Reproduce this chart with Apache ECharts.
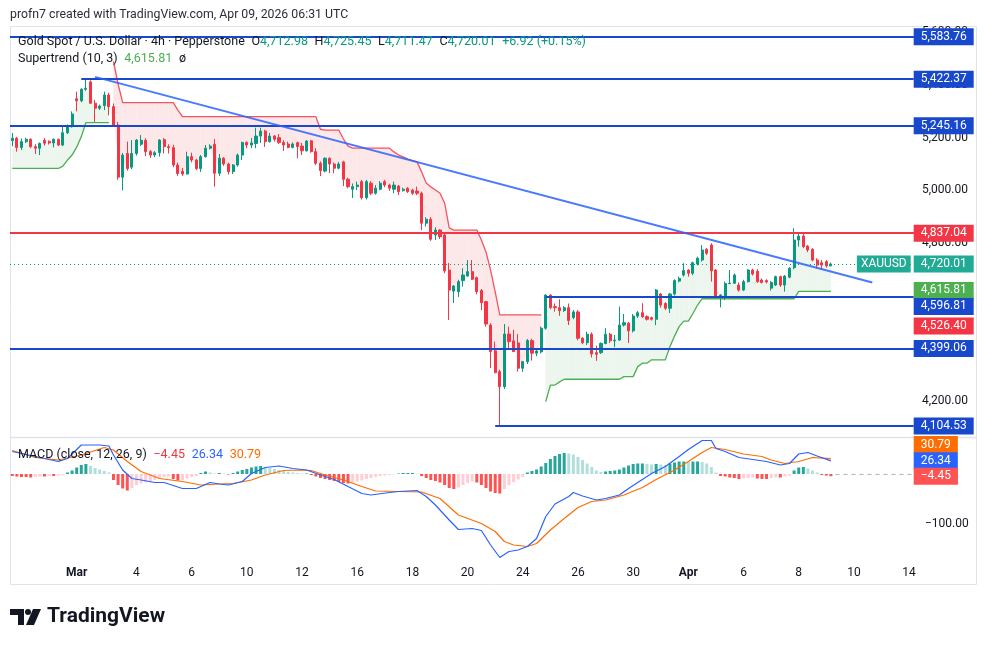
<!DOCTYPE html>
<html>
<head>
<meta charset="utf-8">
<script src="https://cdn.jsdelivr.net/npm/echarts@6/dist/echarts.min.js"></script>
<style>
  html, body { margin: 0; padding: 0; background: #fff; }
  #chart { width: 989px; height: 647px; }
</style>
</head>
<body>
<div id="chart"></div>
<script>
// 4h candles, [open, close, low, high]
const candles = [
  [5189,5198,5168,5218],[5198,5163,5147,5203],[5163,5185,5153,5197],[5185,5194,5180,5200],[5194,5166,5160,5197],
  [5166,5160,5138,5175],[5160,5178,5134,5182],[5190,5179,5170,5198],[5186,5180,5174,5190],[5180,5194,5163,5197],
  [5194,5172,5168,5196],[5172,5219,5168,5242],[5219,5242,5214,5250],[5242,5290,5238,5300],[5348,5340,5300,5375],
  [5340,5384,5335,5388],[5384,5388,5378,5422],[5412,5331,5328,5418],[5331,5312,5260,5343],[5312,5320,5305,5326],
  [5322,5362,5305,5375],[5362,5318,5285,5370],[5318,5248,5242,5330],[5248,5050,5040,5260],[5050,5134,5000,5142],
  [5140,5083,5075,5185],[5088,5140,5080,5191],[5140,5191,5132,5195],[5175,5190,5168,5210],[5190,5147,5130,5198],
  [5147,5134,5123,5153],[5134,5143,5126,5149],[5143,5191,5128,5195],[5193,5166,5140,5198],[5166,5162,5140,5175],
  [5162,5096,5088,5173],[5096,5064,5055,5105],[5072,5062,5055,5085],[5062,5128,5060,5147],[5128,5115,5106,5143],
  [5115,5083,5077,5120],[5083,5128,5070,5134],[5128,5160,5124,5172],[5160,5168,5155,5175],[5175,5065,5014,5195],
  [5065,5122,5054,5138],[5122,5100,5093,5126],[5100,5071,5060,5105],[5071,5096,5062,5100],[5096,5134,5090,5140],
  [5134,5182,5115,5185],[5182,5172,5160,5186],[5172,5180,5160,5199],[5178,5206,5160,5238],[5206,5225,5180,5238],
  [5225,5185,5165,5230],[5185,5206,5181,5218],[5206,5194,5185,5210],[5200,5182,5176,5214],[5182,5172,5150,5190],
  [5176,5163,5160,5185],[5163,5176,5160,5182],[5181,5166,5122,5185],[5168,5150,5134,5180],[5150,5187,5147,5191],
  [5188,5147,5143,5191],[5147,5103,5096,5160],[5103,5075,5054,5110],[5073,5122,5068,5125],[5122,5100,5065,5125],
  [5100,5084,5065,5105],[5084,5100,5080,5108],[5108,5042,5016,5112],[5042,5014,5008,5048],[5004,5014,4971,5026],
  [5014,5020,5001,5033],[5033,4972,4965,5039],[4972,5033,4965,5040],[5027,4989,4982,5035],[4989,5008,4984,5020],
  [5004,5027,5000,5035],[5033,5020,5012,5040],[5020,5008,4998,5025],[5004,5020,4989,5033],[5016,4995,4982,5020],
  [4999,5004,4995,5010],[5008,4995,4990,5012],[5001,4989,4982,5006],[4997,4989,4982,5014],[4989,4875,4849,4995],
  [4875,4890,4862,4898],[4890,4814,4808,4898],[4830,4849,4811,4860],[4849,4824,4815,4853],[4830,4694,4685,4838],
  [4697,4621,4507,4724],[4617,4636,4572,4640],[4615,4653,4595,4660],[4657,4678,4634,4704],[4674,4691,4672,4735],
  [4691,4662,4659,4735],[4668,4615,4605,4672],[4619,4573,4545,4625],[4577,4492,4482,4580],[4488,4387,4325,4495],
  [4390,4307,4305,4425],[4311,4254,4104.53,4318],[4254,4454,4245,4492],[4454,4425,4400,4482],[4428,4387,4387,4470],
  [4420,4324,4311,4454],[4324,4349,4310,4352],[4349,4429,4340,4435],[4429,4381,4353,4436],[4381,4389,4370,4395],
  [4386,4476,4380,4482],[4476,4602,4470,4605],[4602,4554,4548,4605],[4558,4554,4539,4570],[4554,4543,4523,4586],
  [4543,4554,4538,4560],[4554,4505,4488,4570],[4517,4538,4510,4545],[4538,4438,4430,4545],[4438,4421,4415,4442],
  [4421,4453,4412,4463],[4453,4378,4365,4460],[4383,4377,4352,4410],[4383,4418,4378,4422],[4418,4453,4415,4476],
  [4453,4428,4420,4458],[4428,4431,4404,4450],[4431,4488,4428,4558],[4488,4497,4482,4530],[4495,4466,4420,4500],
  [4466,4522,4460,4530],[4522,4535,4515,4541],[4535,4520,4515,4571],[4520,4510,4505,4525],[4516,4510,4505,4520],
  [4510,4621,4488,4625],[4606,4564,4554,4610],[4570,4552,4545,4575],[4552,4606,4534,4610],[4606,4657,4600,4662],
  [4655,4665,4650,4672],[4678,4695,4672,4723],[4697,4685,4672,4700],[4685,4725,4678,4729],[4720,4742,4715,4748],
  [4735,4773,4730,4792],[4776,4761,4754,4780],[4792,4694,4653,4799],[4697,4593,4590,4700],[4593,4602,4555,4606],
  [4598,4646,4583,4653],[4645,4647,4644,4697],[4647,4678,4644,4684],[4640,4621,4615,4650],[4621,4653,4618,4660],
  [4653,4697,4650,4700],[4697,4682,4676,4702],[4692,4653,4648,4700],[4659,4650,4646,4665],[4657,4652,4646,4662],
  [4628,4650,4619,4655],[4640,4672,4636,4676],[4672,4640,4633,4676],[4640,4674,4615,4678],[4670,4704,4666,4708],
  [4706,4811,4700,4856],[4811,4826,4786,4839],[4826,4786,4780,4839],[4788,4773,4765,4792],[4776,4735,4730,4780],
  [4735,4716,4704,4742],[4725,4716,4700,4735],[4729,4713.09,4706,4735],[4712.98,4720.01,4711.47,4725.45]
];

// Supertrend (10, 3) value per bar
const supertrend = [
  5083,5083,5083,5083,5083,5083,5083,5083,5083,5083,5083,5092,5115,5134,5164,5204,5257,5257,5257,5257,5257,5257,
  5490,5404,5333,5333,5333,5333,5333,5333,5333,5333,5333,5333,5333,5333,5305,
  5280,5280,5280,5280,5280,5280,5280,5280,5280,5280,5280,5280,5280,5280,5280,5280,5280,5280,5280,5280,
  5280,5280,5280,5280,5280,5280,5280,5280,5280,5280,
  5232,5229,5229,5229,5229,5195,5168,5160,5160,5160,5160,5160,5160,5160,5160,5160,
  5146,5134,5127,5119,5113,5108,5070,5028,5013,5001,4989,4952,4857,
  4849,4849,4849,4849,4849,4849,4811,4766,4697,4614,
  4526.4,4526.4,4526.4,4526.4,4526.4,4526.4,4526.4,4526.4,4526.4,4526.4,
  4197,4260,4260,4272,4282,4282,4282,4282,4282,4282,4282,4282,4282,4282,4282,4282,4282,
  4292,4292,4292,4330,4343,4343,4356,4356,4356,4356,4406,4446,4482,4503,4503,4532,4564,
  4588,4588,4588,4588,4588,4588,4588,4588,4588,4588,4588,4588,4588,4588,4588,4588,4588,4588,4588,4588,4588,
  4615.81,4615.81,4615.81,4615.81,4615.81,4615.81,4615.81,4615.81
];
const stFlipDown = 22;   // first bar of the down trend
const stFlipUp = 116;    // first bar of the following up trend

// MACD (12, 26, 9): lines read at [bar, value], histogram per bar
const macdLine = [
  [0,45],[5,35],[10,25],[12,31],[15,58],[19,58],[21,56],[22,38],[24,8],[26,-9],[28,-12],[31,-17],[33,-17],
  [37,-29],[40,-29],[43,-17],[45,-20],[47,-22],[50,-15],[52,1],[55,13],[58,16],[61,11],[64,8],[67,-2],[70,-11],
  [73,-25],[76,-39],[78,-42],[82,-37],[84,-35],[88,-33],[90,-45],[92,-62],[95,-92],[97,-111],[100,-109],
  [102,-113],[104,-142],[106,-167],[108,-155],[110,-152],[112,-145],[114,-129],[116,-85],[118,-60],[121,-45],
  [122,-37],[124,-44],[127,-52],[129,-49],[132,-42],[134,-29],[137,-11],[139,1],[142,15],[145,35],[147,49],
  [150,67],[152,67],[153,51],[155,45],[158,33],[161,29],[164,25],[167,18],[169,21],[171,40],[173,43],[175,36],
  [178,26.34]
];
const signalLine = [
  [0,47],[5,33],[10,28],[15,38],[20,53],[22,48],[25,25],[28,5],[32,-9],[37,-15],[41,-22],[45,-20],[48,-19],
  [52,-12],[55,-2],[59,7],[63,8],[65,7],[68,-2],[72,-12],[76,-25],[79,-34],[84,-35],[89,-36],[93,-49],[97,-82],
  [102,-99],[105,-115],[107,-135],[109,-142],[112,-145],[114,-139],[117,-112],[120,-89],[123,-67],[126,-55],
  [129,-52],[133,-42],[137,-27],[140,-11],[144,8],[147,25],[150,43],[152,53],[155,49],[159,40],[163,35],
  [165,28],[168,21],[171,25],[174,33],[178,30.79]
];
const macdHist = [
  -4,-5,-6,-6,-7,-6,-5,-5,-4,-4,-3,-2,
  3,7,13,18,20,16,12,9,6,3,
  -12,-22,-29,-33,-28,-22,-19,-17,-15,-12,-8,-6,-5,-10,-13,-12,-9,-6,-4,
  2,5,3,1,2,1,-1,2,5,8,10,13,15,16,14,12,10,8,6,4,3,2,1,1,
  -2,-5,-8,-10,-12,-14,-16,-18,-19,-17,-15,-13,-10,-8,-6,-4,-3,-2,-1,
  1,2,2,2,1,
  -4,-8,-12,-14,-17,-22,-28,-30,-27,-22,-18,-15,-17,-22,-28,-35,-38,-39,-30,-22,-16,-11,-6,
  3,6,9,15,22,30,36,40,42,41,39,34,28,21,14,7,4,5,6,7,9,13,17,20,21,21,20,19,20,19,18,21,23,25,25,24,25,25,24,21,14,3,
  -4,-5,-7,-8,-10,-9,-8,-7,-9,-10,-10,-8,-7,-7,-5,-3,
  7,13,14,11,7,3,-2,-3,-4.45
];

// horizontal drawings: price level and first bar
const levelPrices = [5583.76, 5422.37, 5245.16, 4837.04, 4596.81, 4399.06, 4104.53];
const levelStart = [0, 15, 0, 0, 116, 0, 105];
// trend line: [bar, price] end points
const trendFrom = [18, 5431];
const trendTo = [187, 4650];

// time axis
const tickBars = [14, 27, 39, 51, 63, 75, 87, 99, 111, 123, 135, 147, 159, 171, 183, 195];
const tickText = ['Mar', '4', '6', '10', '12', '16', '18', '20', '24', '26', '30', 'Apr', '6', '8', '10', '14'];
const priceTicks = [4200, 4400, 4600, 4800, 5000, 5200, 5400, 5600];
const barCount = 197;

const UP = '#089981', DOWN = '#f23645', LINE_BLUE = '#1848cc';
const FONT = 'Roboto, "Noto Sans", sans-serif';
const fmt = v => v.toLocaleString('en-US', { minimumFractionDigits: 2, maximumFractionDigits: 2 });
const lastBar = barCount - 1;

const categories = [];
for (let i = 0; i < barCount; i++) categories.push(String(i));
const tickLabel = {};
tickBars.forEach((b, k) => { tickLabel[b] = tickText[k]; });

const last = candles[candles.length - 1];
const prevClose = candles[candles.length - 2][1];
const change = last[1] - prevClose;

// supertrend split into its two colours
const isUp = i => i < stFlipDown || i >= stFlipUp;
const stUp = supertrend.map((v, i) => isUp(i) ? v : null);
const stDown = supertrend.map((v, i) => isUp(i) ? null : v);
const bodyMid = candles.map(c => (c[0] + c[1]) / 2);
const fillData = [];
for (let i = 0; i < supertrend.length - 1; i++) {
  if (isUp(i) !== isUp(i + 1)) continue;
  fillData.push([i, supertrend[i], bodyMid[i], supertrend[i + 1], bodyMid[i + 1], isUp(i) ? 1 : -1]);
}

// histogram colours: rising / falling
const histData = macdHist.map((v, i) => {
  const prev = i > 0 ? macdHist[i - 1] : v;
  let c;
  if (v >= 0) c = v >= prev ? '#26a69a' : '#b2dfdb';
  else c = v <= prev ? '#ff5252' : '#ffcdd2';
  return { value: v, itemStyle: { color: c } };
});

// markLines for drawings
const levelLines = levelPrices.map((p, k) => {
  const color = p === 4837.04 ? DOWN : LINE_BLUE;
  const ls = { color, width: 2, type: 'solid' };
  if (levelStart[k] === 0) return { yAxis: p, lineStyle: ls };
  return [{ coord: [levelStart[k], p], lineStyle: ls }, { coord: [lastBar, p], lineStyle: ls }];
});
const trendStyle = { color: '#2962ff', width: 2, type: 'solid', opacity: 0.85 };
levelLines.push([{ coord: trendFrom, lineStyle: trendStyle }, { coord: trendTo, lineStyle: trendStyle }]);
levelLines.push({ yAxis: last[1], lineStyle: { color: UP, width: 1, type: [1, 3] } });

// right scale tags
const tagValues = [5583.76, 5422.37, 5245.16, 4837.04, last[1], supertrend[supertrend.length - 1], 4596.81, 4526.40, 4399.06, 4104.53];
const tagColors = [LINE_BLUE, LINE_BLUE, LINE_BLUE, DOWN, '#22ab94', '#4caf50', LINE_BLUE, DOWN, LINE_BLUE, LINE_BLUE];
const tagShift = [0, 0, 0, 0, 0, -1, 10, 11, 0, 0];
const tagLabel = { show: true, position: 'right', distance: 0, color: '#fff', fontSize: 12, fontFamily: FONT,
  padding: [2, 7, 2, 7], lineHeight: 13 };
const priceTags = tagValues.map((v, k) => ({
  coord: [lastBar, v],
  label: Object.assign({}, tagLabel, { formatter: fmt(v), backgroundColor: tagColors[k], offset: [0, tagShift[k]] })
}));
priceTags.push({
  coord: [lastBar, last[1]],
  label: Object.assign({}, tagLabel, { position: 'left', distance: 3, formatter: 'XAUUSD', backgroundColor: '#22ab94', padding: [2, 4, 2, 4] })
});

const macdLast = macdLine[macdLine.length - 1][1];
const signalLast = signalLine[signalLine.length - 1][1];
const histLast = macdHist[macdHist.length - 1];
const macdTags = [[signalLast, '#ff6d00', -14], [macdLast, '#2962ff', 0], [histLast, '#ff5252', 0]].map(t => ({
  coord: [lastBar, t[0]],
  label: Object.assign({}, tagLabel, { formatter: fmt(t[0]).replace('-', '\u2212'), backgroundColor: t[1], offset: [0, t[2]] })
}));

const chart = echarts.init(document.getElementById('chart'));
chart.setOption({
  animation: false,
  backgroundColor: '#fff',
  textStyle: { fontFamily: FONT },
  grid: [
    { left: 10, right: 73, top: 27, height: 410 },
    { left: 10, right: 73, top: 438, height: 122 }
  ],
  xAxis: [
    { type: 'category', gridIndex: 0, data: categories, show: false },
    {
      type: 'category', gridIndex: 1, data: categories,
      axisLine: { show: false }, axisTick: { show: false },
      axisLabel: {
        interval: 0, margin: 7, color: '#131722', fontSize: 12, fontFamily: FONT,
        formatter: (v, idx) => {
          const t = tickLabel[idx];
          if (!t) return '';
          return (t === 'Mar' || t === 'Apr') ? '{m|' + t + '}' : t;
        },
        rich: { m: { fontWeight: 'bold', fontSize: 12, color: '#131722', fontFamily: FONT } }
      }
    }
  ],
  yAxis: [
    {
      type: 'value', gridIndex: 0, position: 'right', min: 4062.6, max: 5620.6, scale: true,
      axisLine: { show: false }, axisTick: { show: false }, splitLine: { show: false },
      axisLabel: { customValues: priceTicks, margin: 6, color: '#131722', fontSize: 12, fontFamily: FONT, formatter: v => fmt(v) }
    },
    {
      type: 'value', gridIndex: 1, position: 'right', min: -172, max: 72,
      axisLine: { show: false }, axisTick: { show: false }, splitLine: { show: false },
      axisLabel: { customValues: [-100], margin: 9, color: '#131722', fontSize: 12, fontFamily: FONT,
        formatter: v => fmt(v).replace('-', '\u2212') }
    }
  ],
  series: [
    {
      type: 'custom', xAxisIndex: 0, yAxisIndex: 0, z: 1, silent: true, data: fillData,
      encode: { x: 0, y: 1 },
      renderItem: (params, api) => {
        const i = api.value(0);
        const pts = [
          api.coord([i, api.value(1)]), api.coord([i + 1, api.value(3)]),
          api.coord([i + 1, api.value(4)]), api.coord([i, api.value(2)])
        ];
        const col = api.value(5) > 0 ? '#edf6ee' : '#fde8e9';
        return { type: 'polygon', shape: { points: pts }, style: { fill: col, stroke: col, lineWidth: 0.6 } };
      }
    },
    {
      type: 'line', xAxisIndex: 0, yAxisIndex: 0, data: stUp, z: 2, showSymbol: false, silent: true,
      lineStyle: { color: '#4caf50', width: 1.3 }, connectNulls: false
    },
    {
      type: 'line', xAxisIndex: 0, yAxisIndex: 0, data: stDown, z: 2, showSymbol: false, silent: true,
      lineStyle: { color: '#f7525f', width: 1.3 }, connectNulls: false
    },
    {
      type: 'candlestick', xAxisIndex: 0, yAxisIndex: 0, data: candles, z: 3, barWidth: 2.6, silent: true,
      itemStyle: { color: UP, color0: DOWN, borderColor: UP, borderColor0: DOWN, borderWidth: 1 },
      markLine: { silent: true, symbol: ['none', 'none'], label: { show: false }, data: levelLines }
    },
    {
      type: 'line', xAxisIndex: 0, yAxisIndex: 0, data: [], z: 20, silent: true,
      markPoint: { symbol: 'rect', symbolSize: 0, silent: true, data: priceTags }
    },
    {
      type: 'bar', xAxisIndex: 1, yAxisIndex: 1, data: histData, barWidth: 3, silent: true, z: 2,
      markLine: {
        silent: true, symbol: ['none', 'none'], label: { show: false },
        data: [[{ coord: [candles.length, 0] }, { coord: [lastBar, 0] }]],
        lineStyle: { color: '#b2b5be', width: 1, type: [4, 4] }
      }
    },
    {
      type: 'line', xAxisIndex: 1, yAxisIndex: 1, data: signalLine, z: 3, showSymbol: false, silent: true,
      lineStyle: { color: '#ff6d00', width: 1.2 }
    },
    {
      type: 'line', xAxisIndex: 1, yAxisIndex: 1, data: macdLine, z: 4, showSymbol: false, silent: true,
      lineStyle: { color: '#2962ff', width: 1.2 }
    },
    {
      type: 'line', xAxisIndex: 1, yAxisIndex: 1, data: [], z: 20, silent: true,
      markPoint: { symbol: 'rect', symbolSize: 0, silent: true, data: macdTags }
    }
  ],
  graphic: [
    { type: 'rect', silent: true, z: 0, shape: { x: 10.5, y: 26.5, width: 966, height: 558 },
      style: { fill: 'none', stroke: '#e0e3eb', lineWidth: 1 } },
    { type: 'line', silent: true, shape: { x1: 10, y1: 437.5, x2: 977, y2: 437.5 },
      style: { stroke: '#e0e3eb', lineWidth: 1.5 } },
    { type: 'text', silent: true, x: 10, y: 15, style: {
      text: 'profn7 created with TradingView.com, Apr 09, 2026 06:31 UTC', verticalAlign: 'middle',
      fill: '#2a2e39', font: '12.3px ' + FONT } },
    { type: 'text', silent: true, z: 30, x: 18, y: 42, style: {
      text: '{t|Gold Spot / U.S. Dollar \u00b7 4h \u00b7 Pepperstone}  {t|O}{v|' + fmt(last[0]) + '}  {t|H}{v|' + fmt(last[3]) +
        '}  {t|L}{v|' + fmt(last[2]) + '}  {t|C}{v|' + fmt(last[1]) + '}  {v|+' + fmt(change) + ' (+' +
        (change / prevClose * 100).toFixed(2) + '%)}',
      verticalAlign: 'middle',
      rich: { t: { fill: '#131722', font: '12.5px ' + FONT }, v: { fill: UP, font: '12.5px ' + FONT } } } },
    { type: 'text', silent: true, z: 30, x: 18, y: 59, style: {
      text: '{t|Supertrend (10, 3)}  {g|' + fmt(supertrend[supertrend.length - 1]) + '}  {t|\u00f8}',
      verticalAlign: 'middle',
      rich: { t: { fill: '#131722', font: '12.5px ' + FONT }, g: { fill: '#4caf50', font: '12.5px ' + FONT } } } },
    { type: 'text', silent: true, z: 30, x: 18, y: 455, style: {
      text: '{t|MACD (close, 12, 26, 9)}  {h|' + fmt(histLast).replace('-', '\u2212') + '}  {m|' + fmt(macdLast) +
        '}  {s|' + fmt(signalLast) + '}',
      verticalAlign: 'middle',
      rich: {
        t: { fill: '#131722', font: '12.5px ' + FONT }, h: { fill: '#f23645', font: '12.5px ' + FONT },
        m: { fill: '#2962ff', font: '12.5px ' + FONT }, s: { fill: '#ff6d00', font: '12.5px ' + FONT }
      } } },
    { type: 'polygon', silent: true, shape: { points: [[10, 609], [24, 609], [24, 625], [18, 625], [18, 615], [10, 615]] },
      style: { fill: '#131722' } },
    { type: 'circle', silent: true, shape: { cx: 28, cy: 612, r: 3 }, style: { fill: '#131722' } },
    { type: 'polygon', silent: true, shape: { points: [[33, 609], [41, 609], [34, 625], [26, 625]] },
      style: { fill: '#131722' } },
    { type: 'text', silent: true, x: 47, y: 617, style: {
      text: 'TradingView', verticalAlign: 'middle', fill: '#131722', font: 'bold 21px ' + FONT } }
  ]
});
</script>
</body>
</html>
